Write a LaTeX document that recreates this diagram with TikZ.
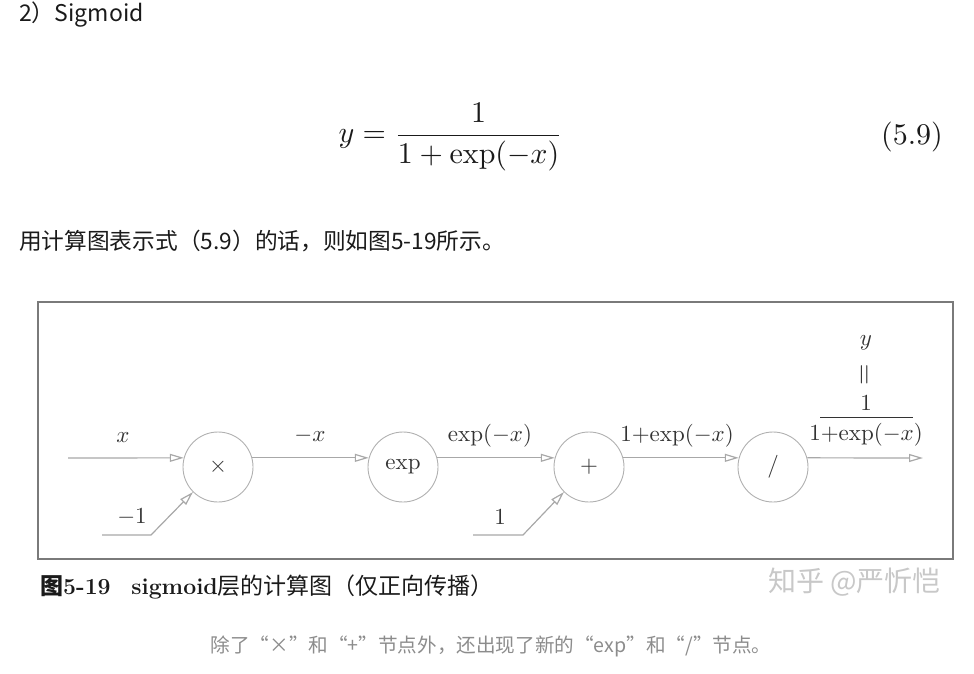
\documentclass[tikz,border=0pt]{standalone}
\usepackage{fontspec}
\usepackage{amsmath}
\newfontfamily\cjk{Noto Sans CJK SC}
\usetikzlibrary{arrows.meta}
\definecolor{txtblack}{HTML}{1A1A1A}
\definecolor{linegray}{HTML}{A8A8A8}
\definecolor{circgray}{HTML}{B0B0B0}
\definecolor{boxgray}{HTML}{7A7A7A}
\definecolor{labgray}{HTML}{333333}
\definecolor{markgray}{HTML}{C8C8C8}
\definecolor{notegray}{HTML}{8C8C8C}
\newcommand{\oplbl}[1]{\scalebox{2.3}{$#1$}}
\tikzset{
  op/.style={circle, draw=circgray, line width=0.9pt, minimum size=70pt, text=labgray},
  flow/.style={draw=linegray, line width=1.2pt, -{Triangle[open, length=14pt, width=8pt]}},
  lab/.style={scale=2.3, text=labgray},
}
\begin{document}
\begin{tikzpicture}[x=10pt,y=10pt]
\tikzstyle{every node}+=[inner sep=0pt]
\useasboundingbox (0,0) rectangle (97.4,-67.4);
\node [anchor=west, text=txtblack, font={\cjk\fontsize{23}{27}\selectfont}] (head) at (1.9,-1.5) {2）Sigmoid};
\node [anchor=west, scale=3, text=txtblack] (eq) at (33.8,-13.7) {$y = \dfrac{1}{1+\exp(-x)}$};
\node [scale=3, text=txtblack] (eqno) at (91.2,-13.7) {$(5.9)$};
\node [anchor=west, text=txtblack, font={\cjk\fontsize{22.7}{27}\selectfont}] (intro) at (1.9,-24.1) {用计算图表示式（5.9）的话，则如图5-19所示。};
\draw [boxgray, line width=1.8pt] (3.8,-30.2) rectangle (95.3,-55.9);
\node [op] (mul) at (21.8,-46.7) {\oplbl{\times}};
\node [op] (expn) at (40.3,-46.7) {\oplbl{\mathrm{exp}}};
\node [op] (add) at (58.9,-46.7) {\oplbl{+}};
\node [op] (div) at (77.3,-46.7) {\oplbl{/}};
\coordinate (xin) at (6.8,-45.8);
\coordinate (yout) at (92.3,-45.8);
\coordinate (m1in) at (10.2,-53.5);
\coordinate (onein) at (47.3,-53.5);
\draw [flow] (xin) -- (mul.165);
\draw [flow] (mul.15) -- (expn.165);
\draw [flow] (expn.15) -- (add.165);
\draw [flow] (add.15) -- (div.165);
\draw [flow] (div.15) -- (yout);
\draw [flow] (m1in) -- (15.1,-53.5) -- (mul.south west);
\draw [flow] (onein) -- (52.3,-53.5) -- (add.south west);
\node [lab] (xlab) at (12.3,-43.8) {$x$};
\node [lab] (nxlab) at (31.0,-43.6) {$-x$};
\node [lab] (exlab) at (49.0,-43.6) {$\exp(-x)$};
\node [lab] (sumlab) at (67.7,-43.6) {$1{+}\mathrm{exp}(-x)$};
\node [lab] (m1lab) at (13.2,-51.7) {$-1$};
\node [lab] (onelab) at (50.0,-51.7) {$1$};
\node [lab] (ylab) at (86.6,-34.3) {$y$};
\node [lab, scale=1.2, rotate=90] (eqsign) at (86.6,-37.5) {$=$};
\node [lab] (numlab) at (86.6,-40.3) {$1$};
\draw [labgray, line width=0.8pt] (82.0,-41.7) -- (91.3,-41.7);
\node [lab] (denlab) at (86.6,-43.5) {$1{+}\mathrm{exp}(-x)$};
\node [anchor=west, text=txtblack, font={\fontsize{23}{27}\selectfont}] (cap) at (4.0,-58.7) {{\cjk\bfseries 图}\textbf{5-19}\hspace{0.9em}\textbf{sigmoid}{\cjk 层的计算图（仅正向传播）}};
\node [anchor=west, text=markgray, font={\cjk\fontsize{28}{32}\selectfont}] (mark) at (76.8,-58.2) {知乎 @严忻恺};
\node [text=notegray, font={\cjk\fontsize{19.6}{24}\selectfont}] (note) at (49.1,-64.6) {除了“×”和“+”节点外，还出现了新的“exp”和“/”节点。};
\end{tikzpicture}
\end{document}
